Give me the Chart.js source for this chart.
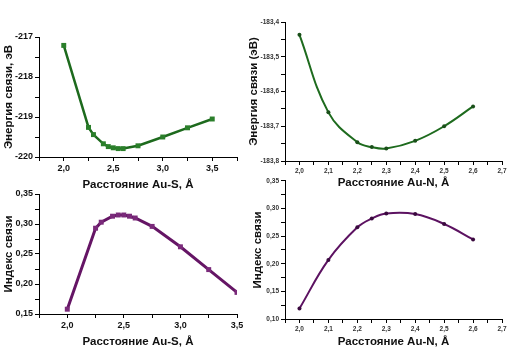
<!DOCTYPE html>
<html>
<head>
<meta charset="utf-8">
<script src="https://cdn.jsdelivr.net/npm/chart.js@4/dist/chart.umd.min.js"></script>
<style>
  body { margin: 0; background: #fff; width: 515px; height: 354px; overflow: hidden; }
  canvas { position: absolute; }
</style>
</head>
<body>
<canvas id="c1" width="250" height="200" style="left:0;top:0"></canvas>
<canvas id="c2" width="270" height="200" style="left:245px;top:0"></canvas>
<canvas id="c3" width="250" height="179" style="left:0;top:175px"></canvas>
<canvas id="c4" width="270" height="179" style="left:245px;top:175px"></canvas>
<script>
// Au-S: distance, binding energy, bond index
const auS_dist = [2.0, 2.25, 2.3, 2.4, 2.45, 2.5, 2.55, 2.6, 2.75, 3.0, 3.25, 3.5];
const auS_energy = [-217.21, -219.26, -219.44, -219.67, -219.74, -219.77, -219.79, -219.79, -219.72, -219.50, -219.27, -219.05];
const auS_index = [0.158, 0.293, 0.303, 0.313, 0.315, 0.315, 0.313, 0.310, 0.296, 0.262, 0.224, 0.186];

// Au-N: distance, binding energy, bond index
const auN_dist = [2.0, 2.1, 2.2, 2.25, 2.3, 2.4, 2.5, 2.6];
const auN_energy = [-183.437, -183.660, -183.746, -183.760, -183.764, -183.742, -183.700, -183.643];
const auN_index = [0.119, 0.207, 0.266, 0.282, 0.291, 0.290, 0.272, 0.244];

const FONT = '"Liberation Sans", Arial, sans-serif';

function fmt(v, digits) {
    return v.toFixed(digits).replace('.', ',');
}

function isMajor(v, step) {
    const r = v / step;
    return Math.abs(r - Math.round(r)) < 1e-6;
}

function toPoints(xs, ys) {
    return xs.map((x, i) => ({ x: x, y: ys[i] }));
}

// one panel = one chart; box sizes are fixed so the plot areas line up with the picture
function makePanel(id, p) {
    const axisCommon = {
        border: { display: true, color: '#000', width: 1 },
        grid: { display: true, drawOnChartArea: false, drawTicks: true, tickLength: 4, color: '#000' }
    };
    new Chart(document.getElementById(id), {
        type: 'line',
        data: {
            datasets: [{
                data: toPoints(p.xs, p.ys),
                borderColor: p.line,
                borderWidth: p.lineWidth,
                backgroundColor: p.point,
                pointBackgroundColor: p.point,
                pointBorderColor: p.point,
                pointBorderWidth: 0,
                pointStyle: p.pointStyle,
                pointRadius: p.pointRadius,
                tension: p.tension,
                fill: false
            }]
        },
        options: {
            responsive: false,
            animation: false,
            devicePixelRatio: 1,
            layout: { padding: p.padding },
            plugins: { legend: { display: false }, tooltip: { enabled: false } },
            scales: {
                x: Object.assign({}, axisCommon, {
                    type: 'linear',
                    min: p.xMin, max: p.xMax,
                    afterFit: function(scale) { scale.height = p.xHeight; },
                    ticks: {
                        stepSize: p.xStep / 2,
                        autoSkip: false,
                        maxRotation: 0,
                        padding: 2,
                        color: p.tickColor,
                        font: { family: FONT, size: p.tickSize, weight: 'bold' },
                        callback: function(v) { return isMajor(v, p.xStep) ? fmt(v, 1) : ''; }
                    },
                    title: {
                        display: true,
                        text: p.xTitle,
                        color: '#111',
                        font: { family: FONT, size: 11.5, weight: 'bold' },
                        padding: { top: 0, bottom: p.xTitlePad }
                    }
                }),
                y: Object.assign({}, axisCommon, {
                    type: 'linear',
                    min: p.yMin, max: p.yMax,
                    afterFit: function(scale) { scale.width = p.yWidth; },
                    ticks: {
                        stepSize: p.yStep / 2,
                        autoSkip: false,
                        padding: 2,
                        color: p.tickColor,
                        font: { family: FONT, size: p.tickSize, weight: 'bold' },
                        callback: function(v) { return isMajor(v, p.yStep) ? fmt(v, p.yDigits) : ''; }
                    },
                    title: {
                        display: true,
                        text: p.yTitle,
                        color: '#111',
                        font: { family: FONT, size: 11.5, weight: 'bold' },
                        padding: { top: p.yTitlePad, bottom: 0 }
                    }
                })
            }
        }
    });
}

makePanel('c1', {
    xs: auS_dist, ys: auS_energy,
    xMin: 1.75, xMax: 3.75, xStep: 0.5,
    yMin: -220, yMax: -217, yStep: 1, yDigits: 0,
    xTitle: 'Расстояние Au-S, Å', yTitle: 'Энергия связи, эВ',
    line: '#1d6a1d', point: '#2b7f2b', lineWidth: 2.5,
    pointStyle: 'rect', pointRadius: 3.5, tension: 0,
    tickSize: 9, tickColor: '#111',
    padding: { left: 0, top: 37, right: 13, bottom: 0 },
    yWidth: 39, xHeight: 43, xTitlePad: 8, yTitlePad: 2
});

makePanel('c2', {
    xs: auN_dist, ys: auN_energy,
    xMin: 1.95, xMax: 2.7, xStep: 0.1,
    yMin: -183.8, yMax: -183.4, yStep: 0.1, yDigits: 1,
    xTitle: 'Расстояние Au-N, Å', yTitle: 'Энергия связи (эВ)',
    line: '#1e6b1e', point: '#1a4f1a', lineWidth: 2,
    pointStyle: 'circle', pointRadius: 2, tension: 0.4,
    tickSize: 6.5, tickColor: '#333',
    padding: { left: 0, top: 22, right: 13, bottom: 0 },
    yWidth: 40, xHeight: 39, xTitlePad: 10, yTitlePad: 2
});

makePanel('c3', {
    xs: auS_dist, ys: auS_index,
    xMin: 1.75, xMax: 3.5, xStep: 0.5,
    yMin: 0.15, yMax: 0.35, yStep: 0.05, yDigits: 2,
    xTitle: 'Расстояние Au-S, Å', yTitle: 'Индекс связи',
    line: '#651565', point: '#7a2a7a', lineWidth: 3,
    pointStyle: 'rect', pointRadius: 3.5, tension: 0,
    tickSize: 9, tickColor: '#111',
    padding: { left: 0, top: 19, right: 13, bottom: 0 },
    yWidth: 39, xHeight: 40, xTitlePad: 5, yTitlePad: 2
});

makePanel('c4', {
    xs: auN_dist, ys: auN_index,
    xMin: 1.95, xMax: 2.7, xStep: 0.1,
    yMin: 0.10, yMax: 0.35, yStep: 0.05, yDigits: 2,
    xTitle: 'Расстояние Au-N, Å', yTitle: 'Индекс связи',
    line: '#5c1261', point: '#3a0a3e', lineWidth: 2,
    pointStyle: 'circle', pointRadius: 2, tension: 0.4,
    tickSize: 6.5, tickColor: '#333',
    padding: { left: 0, top: 5, right: 13, bottom: 0 },
    yWidth: 40, xHeight: 35, xTitlePad: 5, yTitlePad: 6
});
</script>
</body>
</html>
